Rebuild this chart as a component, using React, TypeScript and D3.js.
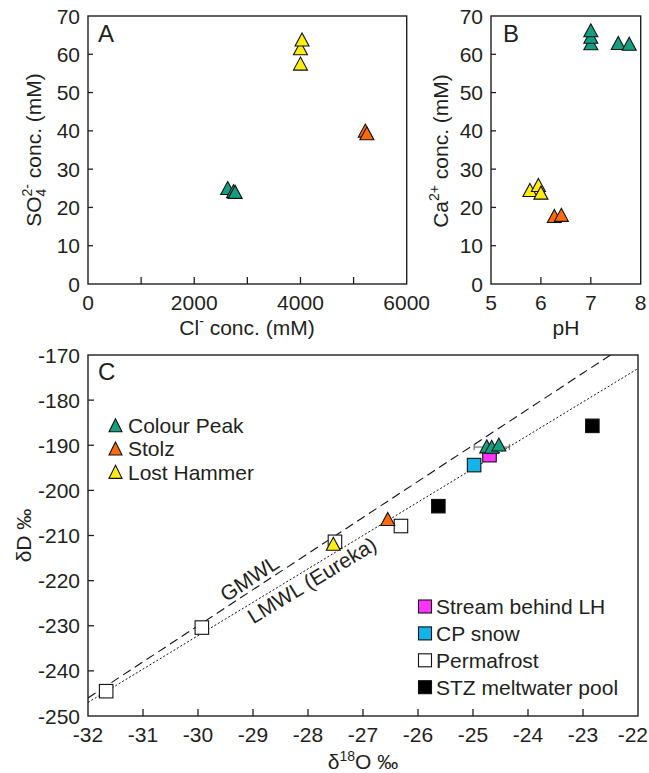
import React from 'react';
import * as d3 from 'd3';

const FONT = '"Liberation Sans", Arial, Helvetica, sans-serif';
const INK = '#231f20';

const GREEN = '#14a080';
const ORANGE = '#ff6a0a';
const YELLOW = '#ffec12';
const MAGENTA = '#ff33ff';
const CYAN = '#12b4ea';

// panel A: Cl- (mM) vs SO4 2- (mM)
const cpA: [number, number][] = [[2630, 25], [2740, 24.2], [2770, 24]];
const stA: [number, number][] = [[5220, 40], [5250, 39.3]];
const lhA: [number, number][] = [[4000, 57.5], [4000, 61.5], [4030, 63.8]];

// panel B: pH vs Ca2+ (mM)
const cpB: [number, number][] = [[7.0, 62.8], [7.0, 64.5], [7.0, 66.2], [7.55, 62.9], [7.77, 62.7]];
const stB: [number, number][] = [[6.27, 17.7], [6.41, 18]];
const lhB: [number, number][] = [[5.78, 24.5], [5.95, 25.8], [6.0, 23.8]];

// panel C: d18O vs dD
const cpC: [number, number][] = [[-24.75, -190.3], [-24.66, -190.4], [-24.53, -189.9]];
const cpErr = [0, 0.32, 0];
const stC: [number, number][] = [[-26.55, -206.4]];
const lhC: [number, number][] = [[-27.54, -211.9]];
const streamC: [number, number][] = [[-24.7, -192.2]];
const snowC: [number, number][] = [[-24.98, -194.4]];
const permC: [number, number][] = [[-31.67, -244.5], [-29.93, -230.4], [-27.51, -211.4], [-26.31, -207.9]];
const stzC: [number, number][] = [[-25.63, -203.5], [-22.83, -185.7]];

// meteoric water lines: [slope, intercept]
const gmwl = [8, 10];
const lmwl = [7.4, -10.2];

const triLegend = [
  { name: 'Colour Peak', color: GREEN },
  { name: 'Stolz', color: ORANGE },
  { name: 'Lost Hammer', color: YELLOW },
];
const sqLegend = [
  { name: 'Stream behind LH', color: MAGENTA },
  { name: 'CP snow', color: CYAN },
  { name: 'Permafrost', color: '#ffffff' },
  { name: 'STZ meltwater pool', color: '#000000' },
];

const tri = (cx: number, cy: number, w = 14, h = 12.5) =>
  `M${cx},${cy - h / 2 - 0.5}L${cx + w / 2},${cy + h / 2}L${cx - w / 2},${cy + h / 2}Z`;

type FrameProps = {
  x: d3.ScaleLinear<number, number>;
  y: d3.ScaleLinear<number, number>;
  xTicks: number[];
  xLabels: number[];
  yTicks: number[];
  yLabels: number[];
  xLen?: number;
  yLen?: number;
  lastEnd?: number; // pull last x label inside the page
};

function Frame({ x, y, xTicks, xLabels, yTicks, yLabels, xLen = 7, yLen = 5, lastEnd }: FrameProps) {
  const [x0, x1] = x.range();
  const [y0, y1] = y.range();
  return (
    <g>
      <rect x={x0} y={y1} width={x1 - x0} height={y0 - y1} fill="none" stroke={INK} strokeWidth={1.4} />
      {xTicks.map((t) => (
        <line key={'xt' + t} x1={x(t)} x2={x(t)} y1={y0} y2={y0 - xLen} stroke={INK} strokeWidth={1.3} />
      ))}
      {yTicks.map((t) => (
        <line key={'yt' + t} x1={x0} x2={x0 + yLen} y1={y(t)} y2={y(t)} stroke={INK} strokeWidth={1.3} />
      ))}
      {xLabels.map((t, i) =>
        lastEnd && i === xLabels.length - 1 ? (
          <text key={'xl' + t} x={lastEnd} y={y0 + 26} textAnchor="end">{t}</text>
        ) : (
          <text key={'xl' + t} x={x(t)} y={y0 + 26} textAnchor="middle">{t}</text>
        )
      )}
      {yLabels.map((t) => (
        <text key={'yl' + t} x={x0 - 8} y={y(t)} dy="0.36em" textAnchor="end">{t}</text>
      ))}
    </g>
  );
}

const Tris = ({ pts, x, y, color }: { pts: [number, number][]; x: any; y: any; color: string }) => (
  <g>
    {pts.map((p, i) => (
      <path key={i} d={tri(x(p[0]), y(p[1]))} fill={color} stroke="#111" strokeWidth={1.1} />
    ))}
  </g>
);

const Sqs = ({ pts, x, y, color, s = 13.5 }: { pts: [number, number][]; x: any; y: any; color: string; s?: number }) => (
  <g>
    {pts.map((p, i) => (
      <rect key={i} x={x(p[0]) - s / 2} y={y(p[1]) - s / 2} width={s} height={s} fill={color} stroke="#111" strokeWidth={1.1} />
    ))}
  </g>
);

export default function App() {
  const xA = d3.scaleLinear().domain([0, 6000]).range([88, 406.7]);
  const yA = d3.scaleLinear().domain([0, 70]).range([284, 16]);
  const xB = d3.scaleLinear().domain([5, 8]).range([491, 640.7]);
  const yB = d3.scaleLinear().domain([0, 70]).range([284, 16]);
  const xC = d3.scaleLinear().domain([-32, -22]).range([88, 638]);
  const yC = d3.scaleLinear().domain([-250, -170]).range([716, 355]);

  const conc = d3.range(0, 71, 10);
  const lineC = (m: number[]) => d3.line<number>().x((v) => xC(v)).y((v) => yC(m[0] * v + m[1]));
  const xs = d3.range(-32, -21.9, 0.5);
  const angle = (m: number[]) =>
    (Math.atan2(yC(m[0] * -30 + m[1]) - yC(m[0] * -31 + m[1]), xC(-30) - xC(-31)) * 180) / Math.PI;
  const gx = -28.95;
  const lx = -28.04;

  return (
    <svg
      width={649}
      height={773}
      style={{ position: 'absolute', left: 0, top: 0, background: '#fff' }}
      fontFamily={FONT}
      fontSize={21}
      fill={INK}
    >
      <defs>
        <clipPath id="clipC">
          <rect x={88} y={355} width={550} height={361} />
        </clipPath>
      </defs>

      {/* Panel A */}
      <Frame x={xA} y={yA} xTicks={[1000, 2000, 3000, 4000, 5000]} xLabels={[0, 2000, 4000, 6000]}
        yTicks={conc.slice(1, -1)} yLabels={conc} />
      <text x={98} y={42} fontSize={24}>A</text>
      <Tris pts={cpA} x={xA} y={yA} color={GREEN} />
      <Tris pts={stA} x={xA} y={yA} color={ORANGE} />
      <Tris pts={lhA} x={xA} y={yA} color={YELLOW} />
      <text x={247} y={335} textAnchor="middle">
        Cl<tspan fontSize={14} dy={-9}>-</tspan><tspan dy={9}> conc. (mM)</tspan>
      </text>
      <text transform="translate(41,150) rotate(-90)" textAnchor="middle">
        SO<tspan fontSize={14} dy={5}>4</tspan><tspan fontSize={14} dx={-7.8} dy={-14}>2-</tspan>
        <tspan dy={9}> conc. (mM)</tspan>
      </text>

      {/* Panel B */}
      <Frame x={xB} y={yB} xTicks={[6, 7]} xLabels={[5, 6, 7, 8]} yTicks={conc.slice(1, -1)} yLabels={conc} />
      <text x={503} y={42} fontSize={24}>B</text>
      <Tris pts={cpB} x={xB} y={yB} color={GREEN} />
      <Tris pts={stB} x={xB} y={yB} color={ORANGE} />
      <Tris pts={lhB} x={xB} y={yB} color={YELLOW} />
      <text x={566} y={335} textAnchor="middle">pH</text>
      <text transform="translate(448,151) rotate(-90)" textAnchor="middle">
        Ca<tspan fontSize={14} dy={-9}>2+</tspan><tspan dy={9}> conc. (mM)</tspan>
      </text>

      {/* Panel C */}
      <Frame x={xC} y={yC} xTicks={d3.range(-31, -22.5, 1)} xLabels={d3.range(-32, -21.5, 1)}
        yTicks={d3.range(-240, -175, 10)} yLabels={d3.range(-250, -165, 10)} xLen={7} yLen={6} lastEnd={648} />
      <text x={98} y={380} fontSize={24}>C</text>
      <g clipPath="url(#clipC)" fill="none" stroke="#111">
        <path d={lineC(gmwl)(xs) || ''} strokeWidth={1.1} strokeDasharray="9 5" />
        <path d={lineC(lmwl)(xs) || ''} strokeWidth={1} strokeDasharray="2 2" />
      </g>
      <text transform={`translate(${xC(gx)},${yC(gmwl[0] * gx + gmwl[1])}) rotate(${angle(gmwl)})`}
        y={-4} textAnchor="middle">GMWL</text>
      <text transform={`translate(${xC(lx)},${yC(lmwl[0] * lx + lmwl[1])}) rotate(${angle(lmwl)})`}
        y={19} textAnchor="middle">LMWL (Eureka)</text>

      <Sqs pts={permC} x={xC} y={yC} color="#ffffff" />
      <Sqs pts={stzC} x={xC} y={yC} color="#000000" />
      <Sqs pts={snowC} x={xC} y={yC} color={CYAN} />
      <Sqs pts={streamC} x={xC} y={yC} color={MAGENTA} />
      {cpC.map((p, i) =>
        cpErr[i] > 0 ? (
          <g key={i} stroke="#555" strokeWidth={1}>
            <line x1={xC(p[0] - cpErr[i])} x2={xC(p[0] + cpErr[i])} y1={yC(p[1])} y2={yC(p[1])} />
            <line x1={xC(p[0] - cpErr[i])} x2={xC(p[0] - cpErr[i])} y1={yC(p[1]) - 3} y2={yC(p[1]) + 3} />
            <line x1={xC(p[0] + cpErr[i])} x2={xC(p[0] + cpErr[i])} y1={yC(p[1]) - 3} y2={yC(p[1]) + 3} />
          </g>
        ) : null
      )}
      <Tris pts={stC} x={xC} y={yC} color={ORANGE} />
      <Tris pts={lhC} x={xC} y={yC} color={YELLOW} />
      <Tris pts={cpC} x={xC} y={yC} color={GREEN} />

      {triLegend.map((d, i) => (
        <g key={d.name}>
          <path d={tri(115.5, 425.5 + i * 23.3, 13, 12.5)} fill={d.color} stroke="#111" strokeWidth={1.1} />
          <text x={128} y={425.5 + i * 23.3} dy="0.36em">{d.name}</text>
        </g>
      ))}
      {sqLegend.map((d, i) => (
        <g key={d.name}>
          <rect x={418.5} y={600 + i * 26.9} width={13} height={13} fill={d.color} stroke="#111" strokeWidth={1.1} />
          <text x={436} y={606.5 + i * 26.9} dy="0.36em">{d.name}</text>
        </g>
      ))}

      <text x={363} y={769} textAnchor="middle">
        δ<tspan fontSize={14} dy={-8}>18</tspan><tspan dy={8}>O ‰</tspan>
      </text>
      <text transform="translate(31,535.5) rotate(-90)" textAnchor="middle">δD ‰</text>
    </svg>
  );
}
